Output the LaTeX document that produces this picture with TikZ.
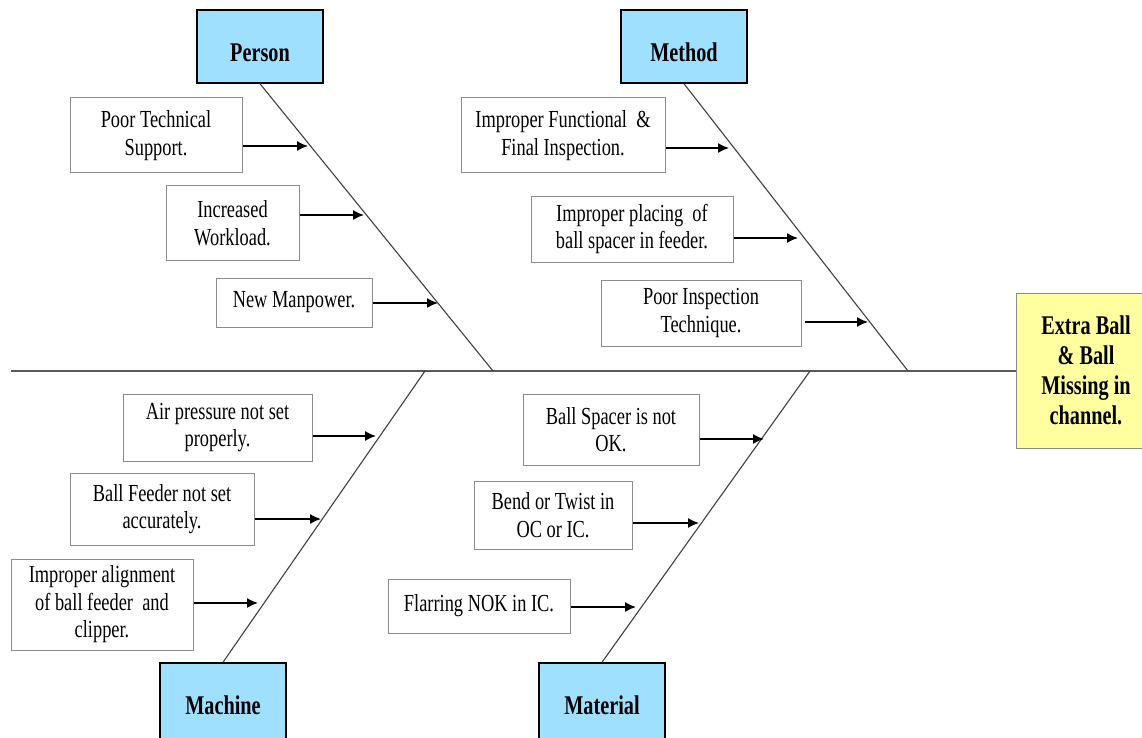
\documentclass[tikz,border=0pt]{standalone}
\usepackage{fontspec}
\setmainfont{Liberation Serif}[FakeStretch=0.75]
\usetikzlibrary{arrows.meta,calc}
\definecolor{catblue}{RGB}{160,224,255}
\definecolor{effyellow}{RGB}{255,255,160}
\begin{document}
\begin{tikzpicture}[x=1pt,y=-1pt,
 cat/.style={draw=black,line width=1.5pt,fill=catblue,minimum width=126pt,inner sep=0pt,font=\fontsize{27}{30}\selectfont\bfseries},
 cattop/.style={cat,text height=30pt,text depth=0pt},
 cause/.style={draw=black!45,line width=1pt,fill=white,inner sep=0pt,align=center,font=\fontsize{24.5}{27.5}\selectfont},
 effectbox/.style={draw=black!45,line width=1pt,fill=effyellow,inner sep=0pt,align=center,minimum width=140pt,minimum height=155pt,font=\fontsize{27}{30}\selectfont\bfseries},
 spine/.style={draw=black!65,line width=2.5pt},
 bone/.style={draw=black!75,line width=1.1pt},
 arr/.style={-{Latex[length=11pt,width=10pt]},line width=1.5pt}]
\useasboundingbox (0,0) rectangle (1142,738);
\fill[white] (0,0) rectangle (1142,738);
\clip (0,0) rectangle (1142,738);

% effect and spine
\node[effectbox] (effect) at (1086,370.5) {Extra Ball\\\& Ball\\Missing in\\channel.};
\coordinate (spinestart) at (11,371);
\draw[spine] (spinestart) -- (effect.west |- spinestart);

% category boxes
\node[cattop,minimum height=73pt] (person) at (260,46.5) {Person};
\node[cattop,minimum height=73pt] (method) at (684,46.5) {Method};
\node[cat,minimum height=85pt] (machine) at (223,705.5) {Machine};
\node[cat,minimum height=85pt] (material) at (602,705.5) {Material};

% joints on spine
\coordinate (pj) at (493,371);
\coordinate (mj) at (908,371);
\coordinate (maj) at (425,371);
\coordinate (matj) at (810,371);

\draw[bone] (person.south) -- (pj);
\draw[bone] (method.south) -- (mj);
\draw[bone] (machine.north) -- (maj);
\draw[bone] (material.north) -- (matj);

% cause boxes
\node[cause,minimum width=172pt,minimum height=75pt] (pts) at (156,135.5) {Poor Technical\\Support.};
\node[cause,minimum width=133pt,minimum height=74pt] (iw) at (232.5,223) {Increased\\Workload.};
\node[cause,minimum width=156pt,minimum height=49pt] (nm) at (294,302.5) {New Manpower.};
\node[cause,minimum width=204pt,minimum height=75pt] (iff) at (563,135.5) {Improper Functional~~\&\\Final Inspection.};
\node[cause,minimum width=202pt,minimum height=66pt] (ipb) at (632,229) {Improper placing~~of\\ball spacer in feeder.};
\node[cause,minimum width=200pt,minimum height=66pt] (pit) at (701,313) {Poor Inspection\\Technique.};
\node[cause,minimum width=189pt,minimum height=67pt] (ap) at (217.5,427.5) {Air pressure not set\\properly.};
\node[cause,minimum width=184pt,minimum height=72pt] (bf) at (162,509) {Ball Feeder not set\\accurately.};
\node[cause,minimum width=182pt,minimum height=91pt] (ia) at (102,604.5) {Improper alignment\\of ball feeder~~and\\clipper.};
\node[cause,minimum width=176pt,minimum height=71pt] (bs) at (611,429.5) {Ball Spacer is not\\OK.};
\node[cause,minimum width=158pt,minimum height=68pt] (bt) at (553,515) {Bend or Twist in\\OC or IC.};
\node[cause,minimum width=182pt,minimum height=54pt] (fn) at (479,606) {Flarring NOK in IC.};

% arrow targets on the bones
\coordinate (tpts) at (308,146);
\coordinate (tiw) at (364,215);
\coordinate (tnm) at (438,303);
\coordinate (tiff) at (729,148);
\coordinate (tipb) at (798,238);
\coordinate (tpit) at (868,322);
\coordinate (tap) at (376,436);
\coordinate (tbf) at (321,519);
\coordinate (tia) at (258,603);
\coordinate (tbs) at (764,439);
\coordinate (tbt) at (699,523);
\coordinate (tfn) at (636,607);

\draw[arr] (pts.east |- tpts) -- (tpts);
\draw[arr] (iw.east |- tiw) -- (tiw);
\draw[arr] (nm.east |- tnm) -- (tnm);
\draw[arr] (iff.east |- tiff) -- (tiff);
\draw[arr] (ipb.east |- tipb) -- (tipb);
\draw[arr] ($(pit.east |- tpit)+(3,0)$) -- (tpit);
\draw[arr] (ap.east |- tap) -- (tap);
\draw[arr] (bf.east |- tbf) -- (tbf);
\draw[arr] (ia.east |- tia) -- (tia);
\draw[arr] (bs.east |- tbs) -- (tbs);
\draw[arr] (bt.east |- tbt) -- (tbt);
\draw[arr] (fn.east |- tfn) -- (tfn);
\end{tikzpicture}
\end{document}
